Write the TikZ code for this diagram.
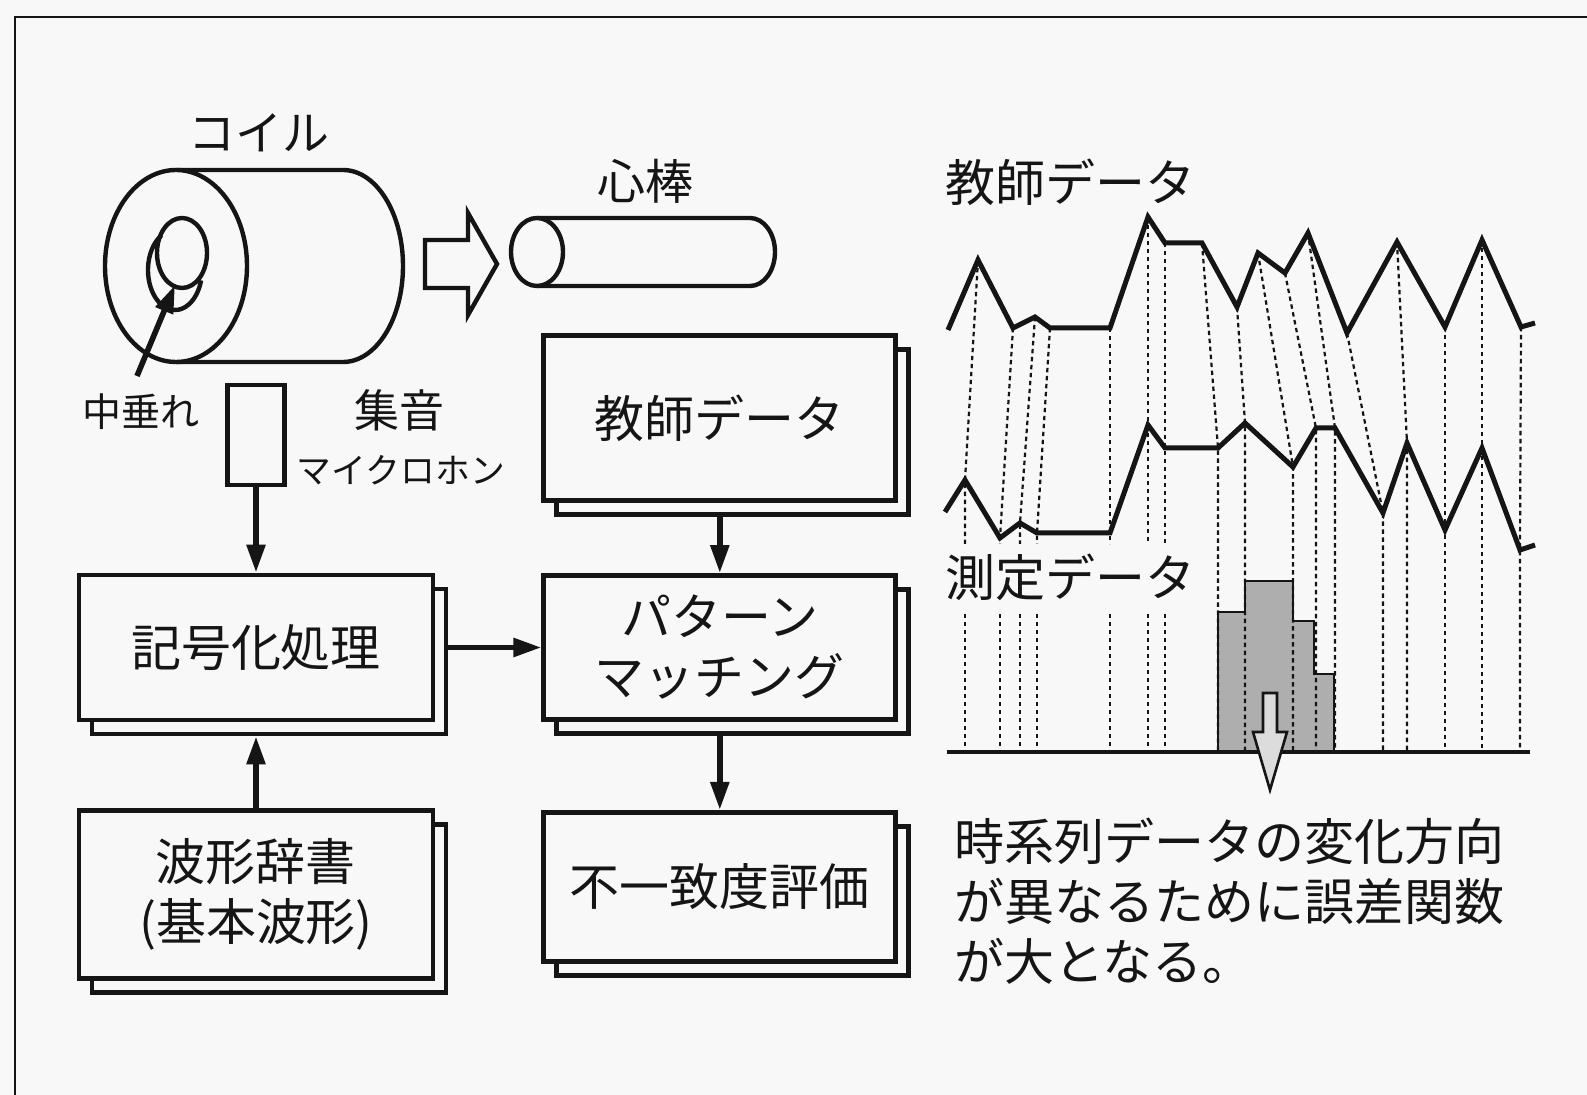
\documentclass[tikz,border=0pt]{standalone}
\usepackage{fontspec}
\setmainfont{Noto Sans CJK JP}
\usetikzlibrary{arrows.meta,positioning,shadows,calc}
\definecolor{ink}{HTML}{151515}
\definecolor{paper}{HTML}{F8F8F8}
\definecolor{hist}{HTML}{AEAEAE}
\definecolor{pale}{HTML}{DCDCDC}
\tikzset{
  base/.style={font=\fontsize{25}{30}\selectfont,align=center,draw=ink,line width=2.4pt,fill=paper,inner sep=0pt,text=ink},
  block/.style={base,copy shadow={shadow xshift=6.5pt,shadow yshift=-7pt,line width=2.4pt,draw=ink,fill=paper}},
  mic/.style={base,minimum width=28.5pt,minimum height=50pt},
  tag/.style={font=\fontsize{25}{30}\selectfont,inner sep=0pt,text=ink},
  flow/.style={-{Triangle[length=14pt,width=9pt]},line width=2.8pt,draw=ink},
  outline/.style={line width=2.2pt,draw=ink,line join=round},
  hollow/.style={line width=2.2pt,draw=ink,fill=paper,line join=miter},
  wave/.style={line width=2.5pt,draw=ink,line join=miter},
  match/.style={line width=1.1pt,draw=ink,dash pattern=on 2.2pt off 1.8pt},
  axis/.style={line width=2.2pt,draw=ink},
  bars/.style={line width=1.3pt,draw=ink,fill=hist},
  down/.style={line width=1.3pt,draw=ink,fill=pale,line join=miter},
  frame/.style={line width=1pt,draw=ink}
}

\begin{document}
\begin{tikzpicture}[x=0.5pt,y=-0.5pt]
\fill[paper] (0,0) rectangle (1587,1095);
\useasboundingbox (0,0) rectangle (1587,1095);
\draw[frame] (15,1095) -- (15,17) -- (1587,17);

% coil with sagging core
\draw[outline,fill=paper] (176,170) -- (343,170) arc[start angle=90,end angle=-90,x radius=30pt,y radius=48pt] -- (176,362);
\draw[outline,fill=paper] (176,266) ellipse[x radius=35.5pt,y radius=48pt];
\draw[outline] (182,253) ellipse[x radius=12.5pt,y radius=17.5pt];
\draw[outline] (161.5,235.4) arc[start angle=120,end angle=345,x radius=13.5pt,y radius=20pt];
\node[tag,font=\fontsize{23.5}{28}\selectfont] (coil) at (259,133) {コイル};
\coordinate (sagtail) at (137,376);
\coordinate (sagtip) at (175,285);
\draw[flow] (sagtail) -- (sagtip);
\node[tag,font=\fontsize{19.5}{24}\selectfont] (sag) at (141,412) {中垂れ};

% core rod
\draw[hollow] (425,240) -- (468,240) -- (468,213) -- (497,264) -- (468,315) -- (468,288) -- (425,288) -- cycle;
\draw[outline,fill=paper] (537,218) -- (750,218) arc[start angle=90,end angle=-90,x radius=12.5pt,y radius=17pt] -- (537,286);
\draw[outline,fill=paper] (537,252) ellipse[x radius=13pt,y radius=17pt];
\node[tag,font=\fontsize{24}{28}\selectfont] (rod) at (645,181) {心棒};

% microphone
\node[mic] (mic) at (256,435) {};
\node[tag,font=\fontsize{22.5}{26}\selectfont] (pickup) at (399,410) {集音};
\node[tag,font=\fontsize{17.4}{20}\selectfont] (micname) at (401,470) {マイクロホン};

% processing blocks
\node[block,minimum width=177pt,minimum height=72.5pt] (enc) at (256,647.5) {記号化処理};
\node[block,minimum width=177pt,minimum height=84pt,below=43pt of enc] (dict) {波形辞書\\(基本波形)};
\node[block,minimum width=176pt,minimum height=72pt,right=53pt of enc] (pm) {パターン\\マッチング};
\node[block,minimum width=176pt,minimum height=82.5pt,above=35pt of pm] (teach) {教師データ};
\node[block,minimum width=176pt,minimum height=74.5pt,below=44pt of pm] (eval) {不一致度評価};

\draw[flow] (mic.south) -- (enc.north);
\draw[flow] (dict.north) -- ([yshift=-7pt]enc.south);
\draw[flow] ([xshift=6.5pt]enc.east) -- (pm.west);
\draw[flow] ([yshift=-7pt]teach.south) -- (pm.north);
\draw[flow] ([yshift=-7pt]pm.south) -- (eval.north);

% waveforms
\node[tag] (teachlbl) at (1070,182) {教師データ};
\node[tag] (measlbl) at (1070,577) {測定データ};
\path (948,330) coordinate (t0) (978,260) coordinate (t1) (1013,328) coordinate (t2)
  (1035,317) coordinate (t3) (1050,328) coordinate (t4) (1110,328) coordinate (t5)
  (1148,217) coordinate (t6) (1165,243) coordinate (t7) (1202,243) coordinate (t8)
  (1237,307) coordinate (t9) (1258,253) coordinate (t10) (1285,273) coordinate (t11)
  (1308,233) coordinate (t12) (1347,333) coordinate (t13) (1397,242) coordinate (t14)
  (1445,327) coordinate (t15) (1482,240) coordinate (t16) (1521,327) coordinate (t17)
  (1535,323) coordinate (t18);
\path (945,512) coordinate (m0) (965,480) coordinate (m1) (1000,538) coordinate (m2)
  (1020,523) coordinate (m3) (1037,533) coordinate (m4) (1110,533) coordinate (m5)
  (1148,425) coordinate (m6) (1165,448) coordinate (m7) (1218,448) coordinate (m8)
  (1245,423) coordinate (m9) (1293,467) coordinate (m10) (1316,428) coordinate (m11)
  (1335,428) coordinate (m12) (1383,513) coordinate (m13) (1407,443) coordinate (m14)
  (1445,530) coordinate (m15) (1482,448) coordinate (m16) (1520,550) coordinate (m17)
  (1535,545) coordinate (m18);
\coordinate (gaptop) at (1000,544);
\coordinate (gapbot) at (1000,614);
\coordinate (axisl) at (947,752);
\coordinate (axisr) at (1530,752);

% error histogram
\draw[bars] (1218,752) -- (1218,612) -- (1245,612) -- (1245,581) -- (1293,581) -- (1293,621) -- (1314,621) -- (1314,674) -- (1334,674) -- (1334,752) -- cycle;

\draw[match] (t1) -- (m1) -- (m1 |- gaptop);
\draw[match] (t2) -- (m2) -- (m2 |- gaptop);
\draw[match] (t3) -- (m3) -- (m3 |- gaptop);
\draw[match] (t4) -- (m4) -- (m4 |- gaptop);
\draw[match] (t5) -- (m5) -- (m5 |- gaptop);
\draw[match] (t6) -- (m6) -- (m6 |- gaptop);
\draw[match] (t7) -- (m7) -- (m7 |- gaptop);
\draw[match] (m1 |- gapbot) -- (m1 |- axisl);
\draw[match] (m2 |- gapbot) -- (m2 |- axisl);
\draw[match] (m3 |- gapbot) -- (m3 |- axisl);
\draw[match] (m4 |- gapbot) -- (m4 |- axisl);
\draw[match] (m5 |- gapbot) -- (m5 |- axisl);
\draw[match] (m6 |- gapbot) -- (m6 |- axisl);
\draw[match] (m7 |- gapbot) -- (m7 |- axisl);
\draw[match] (t8) -- (m8) -- (m8 |- axisl);
\draw[match] (t9) -- (m9) -- (m9 |- axisl);
\draw[match] (t10) -- (m10) -- (m10 |- axisl);
\draw[match] (t11) -- (m11) -- (m11 |- axisl);
\draw[match] (t12) -- (m12) -- (m12 |- axisl);
\draw[match] (t13) -- (m13) -- (m13 |- axisl);
\draw[match] (t14) -- (m14) -- (m14 |- axisl);
\draw[match] (t15) -- (m15) -- (m15 |- axisl);
\draw[match] (t16) -- (m16) -- (m16 |- axisl);
\draw[match] (t17) -- (m17) -- (m17 |- axisl);

\draw[wave] (t0) -- (t1) -- (t2) -- (t3) -- (t4) -- (t5) -- (t6) -- (t7) -- (t8) -- (t9)
  -- (t10) -- (t11) -- (t12) -- (t13) -- (t14) -- (t15) -- (t16) -- (t17) -- (t18);
\draw[wave] (m0) -- (m1) -- (m2) -- (m3) -- (m4) -- (m5) -- (m6) -- (m7) -- (m8) -- (m9)
  -- (m10) -- (m11) -- (m12) -- (m13) -- (m14) -- (m15) -- (m16) -- (m17) -- (m18);
\draw[axis] (axisl) -- (axisr);
\draw[down] (1263,693) -- (1277,693) -- (1277,732) -- (1287,732) -- (1270,790) -- (1253,732) -- (1263,732) -- cycle;

\node[tag,align=left,anchor=west] (note) at (954,901) {時系列データの変化方向\\が異なるために誤差関数\\が大となる。};
\end{tikzpicture}
\end{document}
